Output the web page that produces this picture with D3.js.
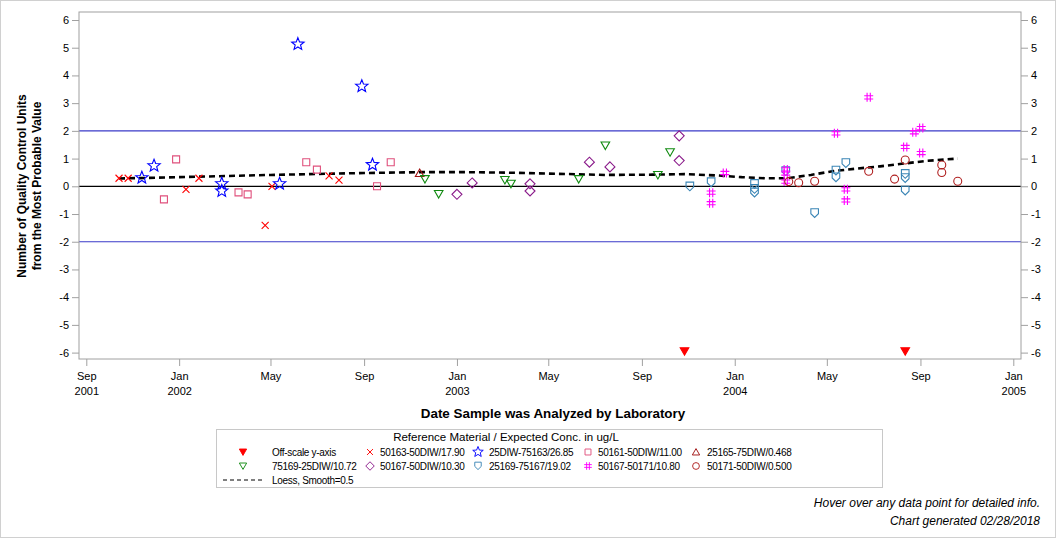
<!DOCTYPE html>
<html>
<head>
<meta charset="utf-8">
<script src="https://cdn.jsdelivr.net/npm/d3@7"></script>
<style>
  body { margin: 0; background: #fff; }
  #chart { width: 1056px; height: 538px; }
  text { font-family: "Liberation Sans", Arial, sans-serif; }
</style>
</head>
<body>
<div id="chart"></div>
<script>
// series: [date, QC units]
const s50163 = [["2001-10-14", 0.29], ["2001-10-26", 0.29], ["2002-01-10", -0.11], ["2002-01-27", 0.29],
  ["2002-04-24", -1.41], ["2002-05-03", 0.0], ["2002-07-17", 0.38], ["2002-07-30", 0.22]];
const s25DIW = [["2001-11-13", 0.31], ["2001-11-29", 0.74], ["2002-02-26", 0.09], ["2002-02-26", -0.17],
  ["2002-05-13", 0.09], ["2002-06-06", 5.13], ["2002-08-29", 3.61], ["2002-09-12", 0.78]];
const s50161 = [["2001-12-12", -0.47], ["2001-12-28", 0.97], ["2002-03-20", -0.22], ["2002-04-01", -0.29],
  ["2002-06-17", 0.87], ["2002-07-01", 0.60], ["2002-09-18", 0.0], ["2002-10-06", 0.87]];
const s25165 = [["2002-11-13", 0.48]];
const s75169 = [["2002-11-20", 0.26], ["2002-12-08", -0.28], ["2003-03-05", 0.23], ["2003-03-13", 0.09],
  ["2003-06-10", 0.26], ["2003-07-15", 1.47], ["2003-09-22", 0.41], ["2003-10-08", 1.23]];
const s50167 = [["2003-01-01", -0.29], ["2003-01-21", 0.12], ["2003-04-07", 0.09], ["2003-04-07", -0.17],
  ["2003-06-24", 0.87], ["2003-07-21", 0.70], ["2003-10-20", 1.82], ["2003-10-20", 0.93]];
const s25169 = [["2003-11-03", -0.01], ["2003-12-01", 0.14], ["2004-01-27", 0.08], ["2004-01-27", -0.10],
  ["2004-01-27", -0.23], ["2004-03-08", 0.54], ["2004-04-15", -0.97], ["2004-05-13", 0.56],
  ["2004-05-13", 0.32], ["2004-05-26", 0.83], ["2004-08-12", 0.44], ["2004-08-12", 0.29], ["2004-08-12", -0.16]];
const s50171a = [["2003-12-01", -0.23], ["2003-12-01", -0.61], ["2003-12-19", 0.48], ["2004-03-08", 0.61],
  ["2004-03-08", 0.46], ["2004-03-08", 0.17], ["2004-05-13", 1.91], ["2004-05-26", -0.11],
  ["2004-05-26", -0.51], ["2004-06-25", 3.21], ["2004-08-12", 1.42], ["2004-08-24", 1.95],
  ["2004-09-02", 2.10], ["2004-09-02", 1.20]];
const s50171b = [["2004-03-12", 0.17], ["2004-03-25", 0.13], ["2004-04-15", 0.18], ["2004-06-25", 0.54],
  ["2004-07-29", 0.26], ["2004-08-12", 0.95], ["2004-09-29", 0.77], ["2004-09-29", 0.50], ["2004-10-20", 0.18]];
const offScale = [["2003-10-27", -5.95], ["2004-08-12", -5.95]];
const loess = [["2001-10-14", 0.28], ["2002-01-01", 0.33], ["2002-05-01", 0.41], ["2002-09-01", 0.48],
  ["2002-11-15", 0.51], ["2003-01-15", 0.51], ["2003-03-15", 0.49], ["2003-05-15", 0.45],
  ["2003-07-15", 0.41], ["2003-09-15", 0.42], ["2003-10-27", 0.44], ["2003-12-10", 0.39],
  ["2004-01-10", 0.33], ["2004-02-10", 0.29], ["2004-03-10", 0.29], ["2004-04-10", 0.41],
  ["2004-05-10", 0.55], ["2004-06-10", 0.64], ["2004-07-10", 0.72], ["2004-08-10", 0.82],
  ["2004-09-10", 0.92], ["2004-10-20", 1.0]];

const xTicks = ["2001-09-01", "2002-01-01", "2002-05-01", "2002-09-01", "2003-01-01", "2003-05-01",
  "2003-09-01", "2004-01-01", "2004-05-01", "2004-09-01", "2005-01-01"];
const yTicks = [-6, -5, -4, -3, -2, -1, 0, 1, 2, 3, 4, 5, 6];
const refLines = [-2, 0, 2];

const parse = d3.timeParse("%Y-%m-%d");

const margin = { top: 12, left: 79 };
const width = 942, height = 347;

const svg = d3.select("#chart").append("svg")
    .attr("width", 1056).attr("height", 538);

// outer frame
svg.append("rect").attr("x", 0.5).attr("y", 0.5).attr("width", 1055).attr("height", 537)
    .attr("fill", "none").attr("stroke", "#d0d0d0");

const g = svg.append("g").attr("transform", `translate(${margin.left},${margin.top})`);

const x = d3.scaleTime().domain([parse("2001-09-01"), parse("2005-01-01")]).range([7.3, 934.3]);
const y = d3.scaleLinear().domain([-6, 6]).range([340.6, 8]);

// reference lines
g.selectAll(".ref").data(refLines).enter().append("line")
    .attr("x1", 0).attr("x2", width)
    .attr("y1", d => y(d)).attr("y2", d => y(d))
    .attr("stroke", d => d === 0 ? "#000" : "#3a3ac8")
    .attr("stroke-width", 1.2);

// frame
g.append("rect").attr("x", 0).attr("y", 0).attr("width", width).attr("height", height)
    .attr("fill", "none").attr("stroke", "#a0a0a0");

// axes
function styleAxis(sel) {
    sel.select(".domain").remove();
    sel.selectAll(".tick line").attr("stroke", "#a0a0a0");
    sel.selectAll("text").attr("font-size", "11px").attr("fill", "#000");
}
const yFmt = d => d < 0 ? "-" + Math.abs(d) : String(d);
g.append("g").call(d3.axisLeft(y).tickValues(yTicks).tickSize(7).tickPadding(3).tickFormat(yFmt)).call(styleAxis);
g.append("g").attr("transform", `translate(${width},0)`)
    .call(d3.axisRight(y).tickValues(yTicks).tickSize(7).tickPadding(3).tickFormat(yFmt)).call(styleAxis);

const fmtMon = d3.timeFormat("%b"), fmtYr = d3.timeFormat("%Y");
const xAx = g.append("g").attr("transform", `translate(0,${height})`)
    .call(d3.axisBottom(x).tickValues(xTicks.map(parse)).tickSize(7).tickPadding(4).tickFormat(""))
    .call(styleAxis);
xAx.selectAll(".tick").each(function(d, i) {
    const t = d3.select(this).append("text").attr("fill", "#000").attr("font-size", "11px")
        .attr("text-anchor", "middle");
    t.append("tspan").attr("x", 0).attr("y", 21).text(fmtMon(d));
    if (d.getMonth() === 0 || i === 0) t.append("tspan").attr("x", 0).attr("y", 36).text(fmtYr(d));
});

// symbols
const starPath = (() => {
    const pts = [];
    for (let i = 0; i < 10; i++) {
        const r = i % 2 === 0 ? 6.5 : 2.8, a = -Math.PI / 2 + i * Math.PI / 5;
        pts.push([r * Math.cos(a), r * Math.sin(a)]);
    }
    return "M" + pts.map(p => p.join(",")).join("L") + "Z";
})();
const shapes = {
    x: { d: "M-3.5,-3.5L3.5,3.5M-3.5,3.5L3.5,-3.5", fill: false },
    star: { d: starPath, fill: false },
    square: { d: "M-3.5,-3.5H3.5V3.5H-3.5Z", fill: false },
    tri: { d: "M0,-4L4.3,3.5H-4.3Z", fill: false },
    itri: { d: "M0,4L4.3,-3.5H-4.3Z", fill: false },
    diamond: { d: "M0,-5L5,0L0,5L-5,0Z", fill: false },
    shield: { d: "M-3.8,-4.5H3.8V0.5L0,4.2L-3.8,0.5Z", fill: false },
    hash: { d: "M-1.6,-4.5V4.5M1.6,-4.5V4.5M-4.5,-1.6H4.5M-4.5,1.6H4.5", fill: false },
    circle: { d: d3.symbol(d3.symbolCircle, 50)(), fill: false },
    filltri: { d: "M0,4L4.3,-3.5H-4.3Z", fill: true }
};

const series = [
    { data: offScale, shape: "filltri", color: "#ff0000", label: "Off-scale y-axis" },
    { data: s50163, shape: "x", color: "#ff0000", label: "50163-50DIW/17.90" },
    { data: s25DIW, shape: "star", color: "#0000ff", label: "25DIW-75163/26.85" },
    { data: s50161, shape: "square", color: "#e0507c", label: "50161-50DIW/11.00" },
    { data: s25165, shape: "tri", color: "#a01010", label: "25165-75DIW/0.468" },
    { data: s75169, shape: "itri", color: "#108a10", label: "75169-25DIW/10.72" },
    { data: s50167, shape: "diamond", color: "#8a1a8a", label: "50167-50DIW/10.30" },
    { data: s25169, shape: "shield", color: "#3a85b5", label: "25169-75167/19.02" },
    { data: s50171a, shape: "hash", color: "#ff00ff", label: "50167-50171/10.80" },
    { data: s50171b, shape: "circle", color: "#b02020", label: "50171-50DIW/0.500" }
];

function drawSym(sel, s, scale) {
    const sh = shapes[s.shape];
    sel.append("path").attr("d", sh.d)
        .attr("transform", scale ? `scale(${scale})` : null)
        .attr("fill", sh.fill ? s.color : "none")
        .attr("stroke", s.color)
        .attr("stroke-width", 1.1);
}

// loess line
g.append("path").datum(loess)
    .attr("d", d3.line().x(d => x(parse(d[0]))).y(d => y(d[1])))
    .attr("fill", "none").attr("stroke", "#000").attr("stroke-width", 2.6)
    .attr("stroke-dasharray", "6,4");

series.forEach(s => {
    g.selectAll(null).data(s.data).enter().append("g")
        .attr("transform", d => `translate(${x(parse(d[0]))},${y(d[1])})`)
        .each(function() { drawSym(d3.select(this), s, 1); });
});

// axis titles
svg.append("text").attr("x", 553).attr("y", 418).attr("text-anchor", "middle")
    .attr("font-size", "13.4px").attr("font-weight", "bold").text("Date Sample was Analyzed by Laboratory");

const yl = svg.append("text").attr("transform", "translate(26,186) rotate(-90)")
    .attr("text-anchor", "middle").attr("font-size", "12px").attr("font-weight", "bold");
yl.append("tspan").attr("x", 0).attr("y", 0).text("Number of Quality Control Units");
yl.append("tspan").attr("x", 0).attr("y", 15).text("from the Most Probable Value");

// legend
const lg = svg.append("g");
lg.append("rect").attr("x", 216.5).attr("y", 429.5).attr("width", 666).attr("height", 58)
    .attr("fill", "#fff").attr("stroke", "#c8c8c8");
lg.append("text").attr("x", 506).attr("y", 441).attr("text-anchor", "middle")
    .attr("font-size", "11.5px").text("Reference Material / Expected Conc. in ug/L");

const colSym = [243, 370, 478, 588, 696];
const colTxt = [272, 380, 489, 598, 707];
series.forEach((s, i) => {
    const r = Math.floor(i / 5), c = i % 5;
    const yy = 452 + r * 14;
    const sg = lg.append("g").attr("transform", `translate(${colSym[c]},${yy})`);
    drawSym(sg, s, 0.85);
    lg.append("text").attr("x", colTxt[c]).attr("y", yy + 4).attr("font-size", "10px")
        .attr("letter-spacing", "-0.3px").text(s.label);
});
lg.append("line").attr("x1", 223).attr("x2", 262).attr("y1", 480).attr("y2", 480)
    .attr("stroke", "#000").attr("stroke-dasharray", "4,3");
lg.append("text").attr("x", 272).attr("y", 484).attr("font-size", "10px")
    .attr("letter-spacing", "-0.3px").text("Loess, Smooth=0.5");

// notes
svg.append("text").attr("x", 1040).attr("y", 507).attr("text-anchor", "end")
    .attr("font-size", "12px").attr("font-style", "italic").text("Hover over any data point for detailed info.");
svg.append("text").attr("x", 1040).attr("y", 525).attr("text-anchor", "end")
    .attr("font-size", "12px").attr("font-style", "italic").text("Chart generated 02/28/2018");
</script>
</body>
</html>
